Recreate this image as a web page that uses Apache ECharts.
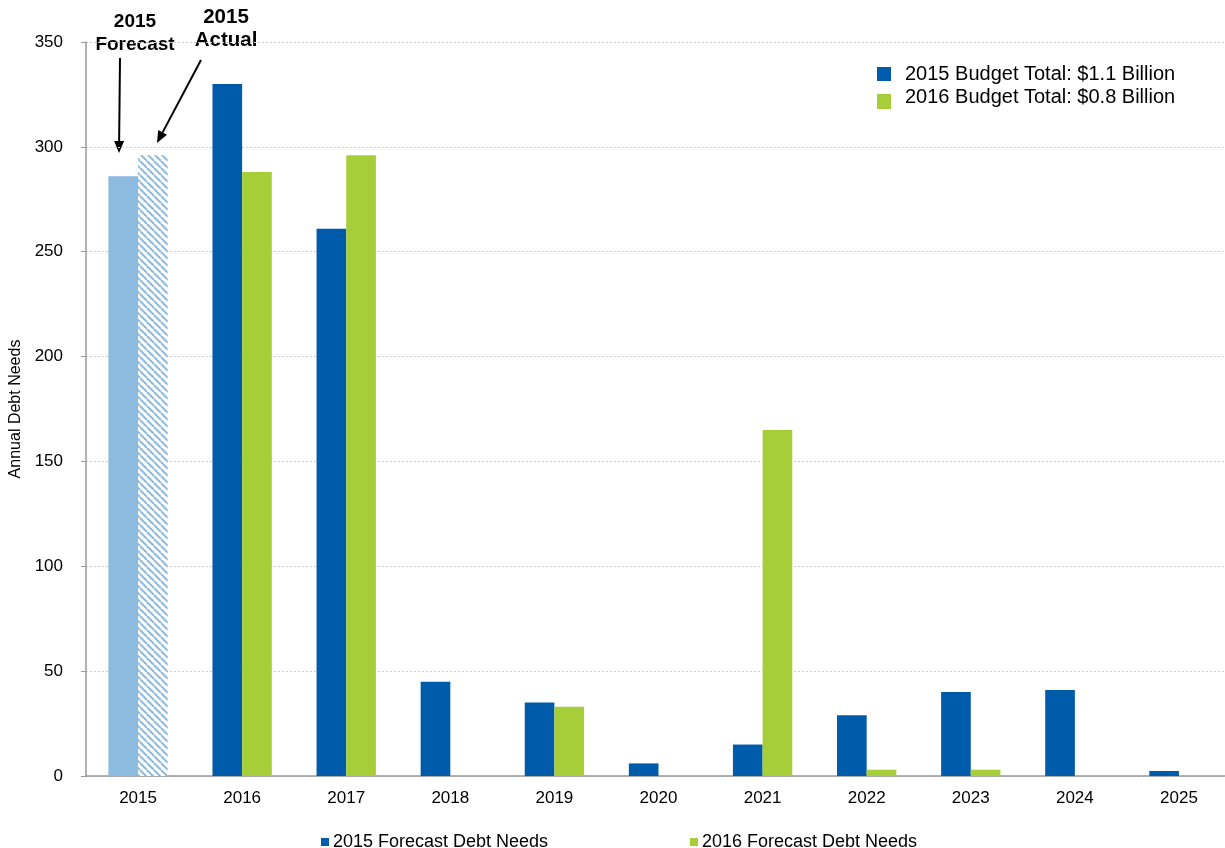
<!DOCTYPE html>
<html>
<head>
<meta charset="utf-8">
<title>Annual Debt Needs</title>
<script src="https://cdn.jsdelivr.net/npm/echarts@6/dist/echarts.min.js"></script>
<style>
  html, body { margin: 0; padding: 0; background: #fff; }
  #chart { width: 1225px; height: 848px; }
</style>
</head>
<body>
<div id="chart"></div>
<script>
// ---- data ----
const years = ['2015', '2016', '2017', '2018', '2019', '2020', '2021', '2022', '2023', '2024', '2025'];
// 2015 entry of the first series is the 2015 forecast, of the second series the 2015 actual
const forecast2015 = [286, 330, 261, 45, 35, 6, 15, 29, 40, 41, 2.4];
const forecast2016 = [296, 288, 296, 0, 33, 0, 165, 3, 3, 0, 0];
const seriesNames = ['2015 Forecast Debt Needs', '2016 Forecast Debt Needs'];
const budgetLabels = ['2015 Budget Total: $1.1 Billion', '2016 Budget Total: $0.8 Billion'];
const yTicks = { min: 0, max: 350, interval: 50 };

// ---- styles ----
const BLUE = '#005BAA';
const GREEN = '#A6CE39';
const LIGHT_BLUE = '#8DBADF';
const FONT = '"Liberation Sans", Arial, sans-serif';

// diagonal hatch used for the 2015 actual bar
function hatchPattern() {
  const c = document.createElement('canvas');
  const s = 7;
  c.width = s; c.height = s;
  const g = c.getContext('2d');
  g.fillStyle = '#fff';
  g.fillRect(0, 0, s, s);
  g.strokeStyle = LIGHT_BLUE;
  g.lineWidth = 2;
  for (let k = -1; k <= 1; k++) {
    g.beginPath();
    g.moveTo(k * s, 0);
    g.lineTo(k * s + s, s);
    g.stroke();
  }
  return c;
}

const firstData = forecast2015.map((v, i) =>
  i === 0 ? { value: v, itemStyle: { color: LIGHT_BLUE } } : v);
const secondData = forecast2016.map((v, i) =>
  i === 0 ? { value: v, itemStyle: { color: { image: hatchPattern(), repeat: 'repeat' } } } : v);

// arrow graphic helper
function arrow(x1, y1, x2, y2) {
  const dx = x2 - x1, dy = y2 - y1;
  const len = Math.sqrt(dx * dx + dy * dy);
  const ux = dx / len, uy = dy / len;
  const hl = 12, hw = 5;
  const bx = x2 - ux * hl, by = y2 - uy * hl;
  return [
    { type: 'line', shape: { x1: x1, y1: y1, x2: bx, y2: by }, style: { stroke: '#000', lineWidth: 2 } },
    { type: 'polygon', shape: { points: [[x2, y2], [bx - uy * hw, by + ux * hw], [bx + uy * hw, by - ux * hw]] }, style: { fill: '#000' } }
  ];
}

const boldText = (x, y, t, size) => ({
  type: 'text', x: x, y: y,
  style: { text: t, font: 'bold ' + size + 'px ' + FONT, fill: '#000', align: 'center', verticalAlign: 'middle' }
});

const chart = echarts.init(document.getElementById('chart'), null, { renderer: 'canvas' });

chart.setOption({
  animation: false,
  backgroundColor: '#fff',
  textStyle: { fontFamily: FONT },
  grid: { left: 86, top: 42, bottom: 72, width: 1145, containLabel: false, outerBoundsMode: 'none' },
  xAxis: {
    type: 'category',
    data: years,
    axisLine: { lineStyle: { color: '#999', width: 1.5 } },
    axisTick: { show: false },
    axisLabel: { color: '#000', fontSize: 17, margin: 14, fontFamily: FONT }
  },
  yAxis: {
    type: 'value',
    min: yTicks.min, max: yTicks.max, interval: yTicks.interval,
    name: 'Annual Debt Needs',
    nameLocation: 'middle',
    nameGap: 58,
    nameTextStyle: { color: '#000', fontSize: 16, fontFamily: FONT },
    axisLine: { show: true, lineStyle: { color: '#999', width: 1.5 } },
    axisTick: { show: true, length: 5, lineStyle: { color: '#999' } },
    axisLabel: { color: '#000', fontSize: 17, margin: 23, fontFamily: FONT },
    splitLine: { lineStyle: { color: '#cfcfcf', type: [2, 2], width: 1 } }
  },
  legend: [
    {
      data: [seriesNames[0]], left: 316, top: 828,
      itemWidth: 8, itemHeight: 8, icon: 'rect',
      textStyle: { color: '#000', fontSize: 18, fontFamily: FONT, padding: [0, 0, 0, -1] }
    },
    {
      data: [seriesNames[1]], left: 685, top: 828,
      itemWidth: 8, itemHeight: 8, icon: 'rect',
      textStyle: { color: '#000', fontSize: 18, fontFamily: FONT, padding: [0, 0, 0, -1] }
    }
  ],
  series: [
    {
      name: seriesNames[0], type: 'bar', data: firstData,
      itemStyle: { color: BLUE },
      barGap: '0%', barCategoryGap: '43%'
    },
    {
      name: seriesNames[1], type: 'bar', data: secondData,
      itemStyle: { color: GREEN },
      barGap: '0%', barCategoryGap: '43%'
    }
  ],
  graphic: [
    // budget totals key
    { type: 'rect', shape: { x: 877, y: 67, width: 14, height: 14 }, style: { fill: BLUE } },
    { type: 'text', x: 905, y: 74, style: { text: budgetLabels[0], font: '20px ' + FONT, fill: '#000', verticalAlign: 'middle' } },
    { type: 'rect', shape: { x: 877, y: 94, width: 14, height: 15 }, style: { fill: GREEN } },
    { type: 'text', x: 905, y: 97, style: { text: budgetLabels[1], font: '20px ' + FONT, fill: '#000', verticalAlign: 'middle' } },
    // 2015 annotations
    boldText(135, 22, '2015', 19),
    boldText(135, 45, 'Forecast', 19),
    boldText(226, 17, '2015', 20.5),
    boldText(226, 40, 'Actual', 20.5),
    ...arrow(120, 58, 119, 153),
    ...arrow(201, 60, 157, 143)
  ]
});
</script>
</body>
</html>
